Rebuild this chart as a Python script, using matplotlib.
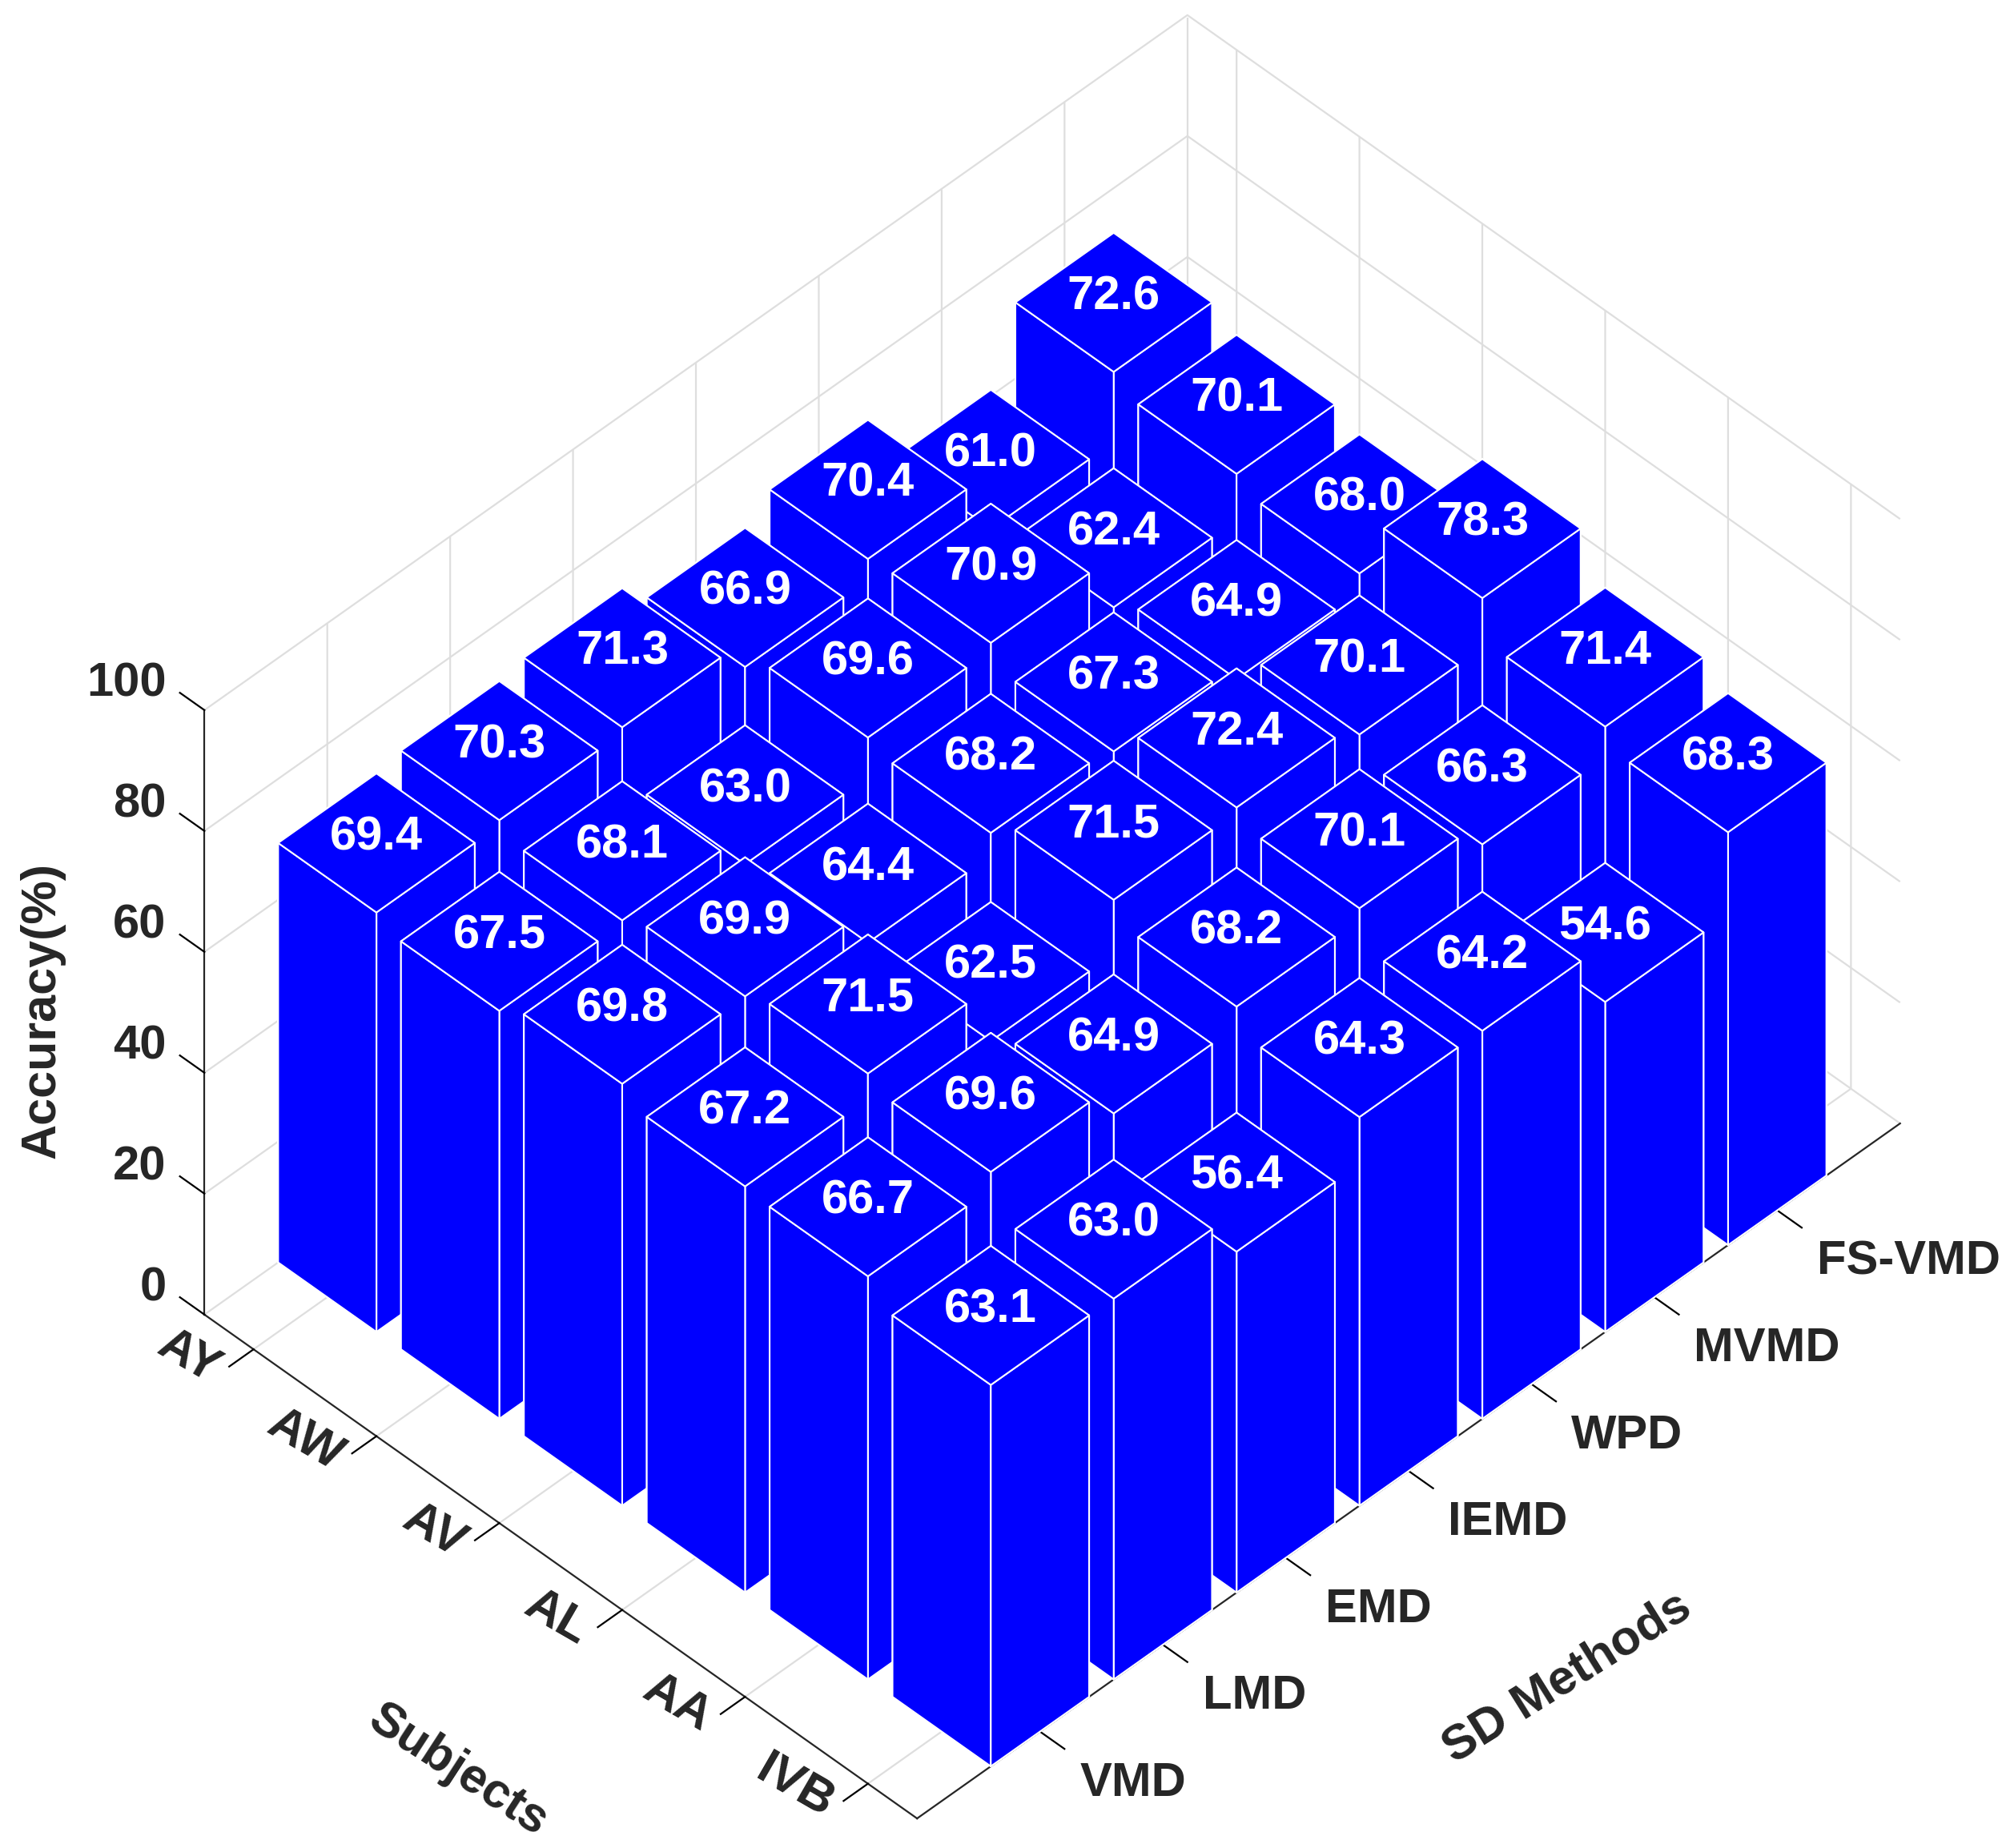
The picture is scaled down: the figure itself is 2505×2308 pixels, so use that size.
import matplotlib
matplotlib.use('Agg')
import matplotlib.pyplot as plt
from mpl_toolkits.mplot3d import proj3d

plt.rcParams['font.family'] = ['Liberation Sans', 'DejaVu Sans']
plt.rcParams['font.weight'] = 'bold'

# Categories, front to back on each axis
methods = ['VMD', 'LMD', 'EMD', 'IEMD', 'WPD', 'MVMD', 'FS-VMD']
subjects = ['IVB', 'AA', 'AL', 'AV', 'AW', 'AY']

# Accuracy per subject, in method order
acc_ivb = [63.1, 63.0, 56.4, 64.3, 64.2, 54.6, 68.3]
acc_aa = [66.7, 69.6, 64.9, 68.2, 70.1, 66.3, 71.4]
acc_al = [67.2, 71.5, 62.5, 71.5, 72.4, 70.1, 78.3]
acc_av = [69.8, 69.9, 64.4, 68.2, 67.3, 64.9, 68.0]
acc_aw = [67.5, 68.1, 63.0, 69.6, 70.9, 62.4, 70.1]
acc_ay = [69.4, 70.3, 71.3, 66.9, 70.4, 61.0, 72.6]
accuracy = [acc_ivb, acc_aa, acc_al, acc_av, acc_aw, acc_ay]

z_ticks = [0, 20, 40, 60, 80, 100]

BLUE = '#0000ff'
DARK = '#262626'
GRID = '#dedede'
BAR_W = 0.8
FS = 43
X_MAX, Y_MIN, Y_MAX = 8, 0.6, 6.4

fig = plt.figure(figsize=(25.05, 23.08), dpi=100)
ax = fig.add_axes([0.0514, -0.0096, 0.9214, 1.0],
                  projection='3d', proj_type='ortho', computed_zorder=False)
ax.view_init(elev=45, azim=-135)
ax.set_xlim(0, X_MAX)
ax.set_ylim(Y_MIN, Y_MAX)
ax.set_zlim(0, 100)
ax.set_box_aspect((8, 5.8, 4.92), zoom=1.0075)
M = ax.get_proj()


def label_at(text, x, y, z, offset, **kw):
    # text placed on the projected 3D point, offset given in points
    px, py, _ = proj3d.proj_transform(x, y, z, M)
    ax.annotate(text, (px, py), xytext=offset, textcoords='offset points',
                annotation_clip=False, **kw)


# back to front so nearer bars paint over the far ones
order = sorted(((i, j) for i in range(len(subjects)) for j in range(len(methods))),
               key=lambda p: -(p[0] + p[1]))
for n, (i, j) in enumerate(order):
    val = accuracy[i][j]
    bar = ax.bar3d(j + 1 - BAR_W / 2, i + 1 - BAR_W / 2, 0, BAR_W, BAR_W, val,
                   color=BLUE, edgecolor='white', linewidth=1.5, shade=False)
    bar.set_zorder(10 + n)
    label_at(f'{val:.1f}', j + 1, i + 1, val, (0, 5), color='white', fontsize=43,
             fontweight='bold', ha='center', va='center', zorder=500)

ax.set_xticks(range(1, len(methods) + 1))
ax.set_xticklabels([])
ax.set_yticks(range(1, len(subjects) + 1))
ax.set_yticklabels([])
ax.set_zticks(z_ticks)
ax.set_zticklabels([])

# tick labels sit a fixed distance from the tick root, as in the original
for k, name in enumerate(methods):
    label_at(name, k + 1, Y_MIN, 0, (35.6, -26.6), fontsize=FS, fontweight='bold',
             color=DARK, ha='left', va='top', zorder=600)
for k, name in enumerate(subjects):
    label_at(name, 0, k + 1, 0, (-33.6, -21.8), fontsize=44, fontweight='bold', color=DARK,
             ha='right', va='center', rotation=-30, rotation_mode='anchor', zorder=600)
for tick in z_ticks:
    label_at(str(tick), 0, Y_MAX, tick, (-34.4, 23.7), fontsize=FS, fontweight='bold',
             color=DARK, ha='right', va='center', zorder=600)

for axis in (ax.xaxis, ax.yaxis, ax.zaxis):
    axis.set_pane_color((1, 1, 1, 1))
    axis.pane.set_edgecolor('none')
    axis.line.set_color(DARK)
    axis.line.set_linewidth(1.6)
    axis._axinfo['grid']['color'] = GRID
    axis._axinfo['grid']['linewidth'] = 1.6
    axis._axinfo['tick']['color'] = DARK
    axis._axinfo['tick']['linewidth'] = {True: 1.6, False: 1.0}
    axis._axinfo['tick']['inward_factor'] = 0
# ticks point out of the box, z ticks along the subject axis
ax.zaxis._get_tickdir = lambda pos: 1
ax.xaxis._axinfo['tick']['outward_factor'] = -0.43
ax.yaxis._axinfo['tick']['outward_factor'] = -0.31
ax.zaxis._axinfo['tick']['outward_factor'] = 0.43

ax.plot([X_MAX, X_MAX], [Y_MAX, Y_MAX], [0, 100], color=GRID, lw=1.6, zorder=1)

fig.text(53 / 2505, 1 - 1262 / 2308, 'Accuracy(%)', rotation=90, fontsize=44, fontweight='bold',
         color=DARK, ha='center', va='center')
fig.text(572 / 2505, 1 - 2211 / 2308, 'Subjects', rotation=-33, fontsize=44, fontweight='bold',
         color=DARK, ha='center', va='center')
fig.text(1957 / 2505, 1 - 2096 / 2308, 'SD Methods', rotation=32, fontsize=44, fontweight='bold',
         color=DARK, ha='center', va='center')

fig.savefig('out.png', dpi=100, facecolor='white')
